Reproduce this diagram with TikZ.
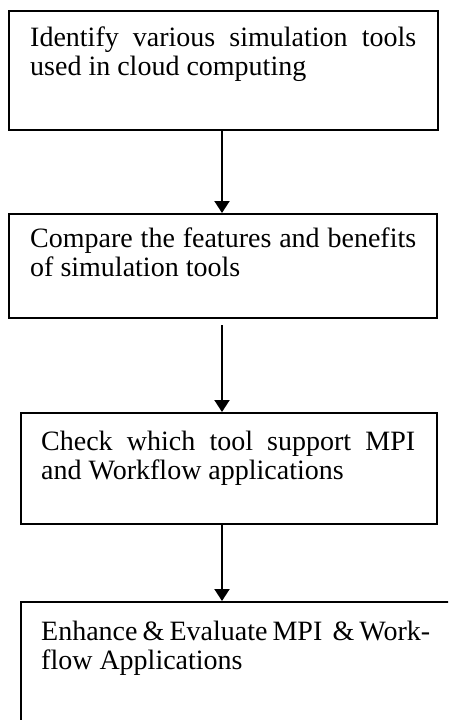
\documentclass[tikz,border=0pt]{standalone}
\usepackage{fontspec}
\setmainfont{Liberation Serif}
\usetikzlibrary{arrows.meta}
\begin{document}
\begin{tikzpicture}[x=1pt,y=-1pt,
  stepbox/.style={draw, line width=2pt, rectangle, anchor=north west, inner sep=0pt},
  steptext/.style={anchor=base west, inner sep=0pt, align=justify, font=\fontsize{28}{29}\selectfont},
  flow/.style={line width=2pt, -{Triangle[width=15pt,length=12pt]}}]
\path[use as bounding box, clip] (0,0) rectangle (448,720);
% boxes
\node[stepbox, minimum width=429pt, minimum height=119pt] (b1) at (8,10) {};
\node[stepbox, minimum width=428pt, minimum height=104pt] (b2) at (8,213) {};
\node[stepbox, minimum width=416pt, minimum height=111pt] (b3) at (20,412) {};
\node[stepbox, minimum width=460pt, minimum height=160pt] (b4) at (20,601) {};
% texts
\node[steptext, text width=386pt] (t1) at (30,46) {Identify various simulation tools\linebreak used in cloud computing};
\node[steptext, text width=386pt] (t2) at (30,247) {Compare the features and benefits\linebreak of simulation tools};
\node[steptext, text width=374pt] (t3) at (41,450) {Check which tool support MPI\linebreak and Workflow applications};
\node[steptext, text width=389pt] (t4) at (41,640) {Enhance \& Evaluate MPI\ \ \& Work-\linebreak flow Applications};
% arrows
\coordinate (a2) at ([yshift=-6pt]b2.south);
\draw[flow] (b1.south -| 222,0) -- (b2.north -| 222,0);
\draw[flow] (a2 -| 222,0) -- (b3.north -| 222,0);
\draw[flow] (b3.south -| 222,0) -- (b4.north -| 222,0);
\end{tikzpicture}
\end{document}
